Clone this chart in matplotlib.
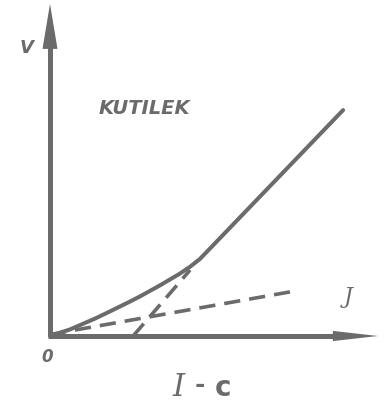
import matplotlib

matplotlib.use("Agg")
import matplotlib.pyplot as plt  # noqa: E402

INK = "#6b6b6b"

# curved part of V(J), then the straight continuation
curve_x = [0.0, 0.67, 1.5, 2.0, 2.67, 3.0, 3.67, 4.33, 4.67, 5.0]
curve_y = [0.0, 0.22, 0.58, 0.82, 1.15, 1.32, 1.69, 2.08, 2.31, 2.57]
line_x = [5.0, 9.77]
line_y = [2.57, 7.53]

# dashed helpers: initial slope through origin and tangent at the knee
init_x = [0.0, 8.0]
init_y = [0.05, 1.47]
tang_x = [2.77, 4.67]
tang_y = [0.0, 2.2]

x_axis_end = 10.93
y_axis_end = 11.07

fig = plt.figure(figsize=(3.88, 4.09), dpi=100)
ax = fig.add_axes([0, 0, 1, 1])
ax.set_xlim(-50 / 30, 338 / 30)
ax.set_ylim(-73 / 30, 336 / 30)
ax.axis("off")

# axes with narrow arrow heads
ax.plot([0, 0], [0, y_axis_end - 1.4], color=INK, lw=3.6, solid_capstyle="butt")
ax.plot([-0.06, x_axis_end - 1.4], [0, 0], color=INK, lw=3.6, solid_capstyle="butt")
ax.fill([-0.25, 0.25, 0.0], [y_axis_end - 1.5, y_axis_end - 1.5, y_axis_end], color=INK, lw=0)
ax.fill([x_axis_end - 1.5, x_axis_end - 1.5, x_axis_end], [-0.17, 0.17, 0.0], color=INK, lw=0)

ax.plot(curve_x + line_x[1:], curve_y + line_y[1:], color=INK, lw=2.9,
        solid_capstyle="round", solid_joinstyle="round")
ax.plot(init_x, init_y, color=INK, lw=2.6, dashes=(4.5, 2.5))
ax.plot(tang_x, tang_y, color=INK, lw=2.6, dashes=(4.5, 2.5))

ax.text(-0.77, 9.6, "V", fontsize=13, fontstyle="italic", fontweight="bold", color=INK,
        ha="center", va="center")
ax.text(3.15, 7.57, "KUTILEK", fontsize=14, fontstyle="italic", fontweight="bold",
        color=INK, ha="center", va="center")
ax.text(9.93, 1.3, "J", fontsize=16, fontstyle="italic", color=INK, family="DejaVu Serif",
        ha="center", va="center")
ax.text(-0.1, -0.7, "0", fontsize=12, fontstyle="italic", fontweight="bold", color=INK,
        ha="center", va="center")
ax.text(4.27, -1.7, "I", fontsize=22, fontstyle="italic", color=INK, family="DejaVu Serif",
        ha="center", va="center")
ax.text(5.0, -1.62, "-", fontsize=18, fontweight="bold", color=INK, ha="center", va="center")
ax.text(5.75, -1.72, "c", fontsize=20, fontweight="bold", color=INK, ha="center", va="center")

fig.savefig("out.png", dpi=100)
